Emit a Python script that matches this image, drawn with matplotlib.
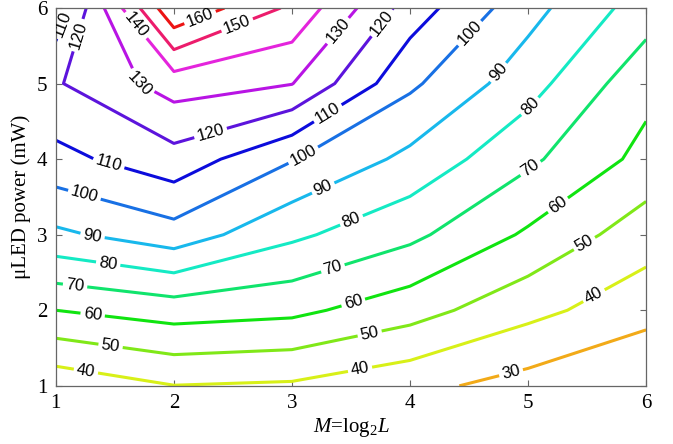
import matplotlib
matplotlib.use('Agg')
import matplotlib.pyplot as plt
import numpy as np

# grid of the contour map
m_vals = [1, 2, 3, 4, 5, 6]
power_mw = [1, 2, 3, 4, 5, 6]

# values, one list per M (power 1..6 mW)
z_m1 = [33.0, 60.0, 88.0, 107.0, 119.0, 103.0]
z_m2 = [39.8, 64.5, 95.8, 116.2, 134.5, 169.0]
z_m3 = [38.6, 62.4, 82.0, 100.6, 130.3, 148.0]
z_m4 = [32.8, 54.2, 72.4, 87.4, 101.9, 115.4]
z_m5 = [26.1, 43.0, 58.5, 72.0, 84.1, 93.6]
z_m6 = [18.6, 34.0, 44.5, 57.0, 63.0, 75.0]

levels = [30, 40, 50, 60, 70, 80, 90, 100, 110, 120, 130, 140, 150, 160]

# one colour per level (hsv-like ramp)
level_colors = ['#f2aa18', '#d8f018', '#80e818', '#10e410', '#10e46c',
                '#14eac4', '#18b8ec', '#1870e4', '#0c0cdc', '#5c14dc',
                '#b814e4', '#e424dc', '#ec1c6c', '#ec1414']

# where the inline labels sit
label_pos = [
    (1.25, 1.15), (1.46, 1.49), (1.31, 1.92), (1.16, 2.29), (1.44, 2.58),
    (1.31, 2.98), (1.23, 3.46), (1.44, 3.90), (2.31, 4.35), (1.69, 4.97),
    (1.67, 5.76), (2.53, 5.80), (2.22, 5.88), (1.08, 5.78), (1.21, 5.63),
    (3.38, 5.71), (3.78, 5.78), (3.31, 4.59), (3.10, 4.04), (4.53, 5.63),
    (3.27, 3.60), (4.77, 5.12), (3.52, 3.13), (5.03, 4.68), (3.35, 2.54),
    (5.02, 3.88), (3.52, 2.10), (5.25, 3.40), (3.66, 1.68), (5.49, 2.85),
    (3.58, 1.19), (5.57, 2.16), (4.86, 1.15),
]

plt.rcParams['font.family'] = 'Liberation Serif'
plt.rcParams['mathtext.fontset'] = 'custom'
plt.rcParams['mathtext.rm'] = 'Liberation Serif'
plt.rcParams['mathtext.it'] = 'Liberation Serif:italic'

fig = plt.figure(figsize=(6.73, 4.44), dpi=100)
ax = fig.add_axes([0.083, 0.131, 0.877, 0.851])

X, Y = np.meshgrid(m_vals, power_mw)
Z = np.column_stack([z_m1, z_m2, z_m3, z_m4, z_m5, z_m6])

cs = ax.contour(X, Y, Z, levels=levels, colors=level_colors, linewidths=2.2)

with plt.rc_context({'font.family': 'Liberation Sans'}):
    ax.clabel(cs, fmt='%d', fontsize=12, inline=True, inline_spacing=3,
              colors='black', manual=label_pos)

ax.set_xlim(1, 6)
ax.set_ylim(1, 6)
ax.set_xticks(m_vals)
ax.set_yticks(power_mw)

for s in ax.spines.values():
    s.set_color('#666666')
    s.set_linewidth(0.9)
ax.tick_params(direction='in', top=True, right=True, length=4,
               color='#666666', labelsize=15, pad=6)

ax.set_xlabel(r'$M$=log$_2$$L$', fontsize=15, labelpad=2)
ax.set_ylabel('\u03bcLED power (mW)', fontsize=15, labelpad=4)

fig.savefig('out.png', dpi=100)
